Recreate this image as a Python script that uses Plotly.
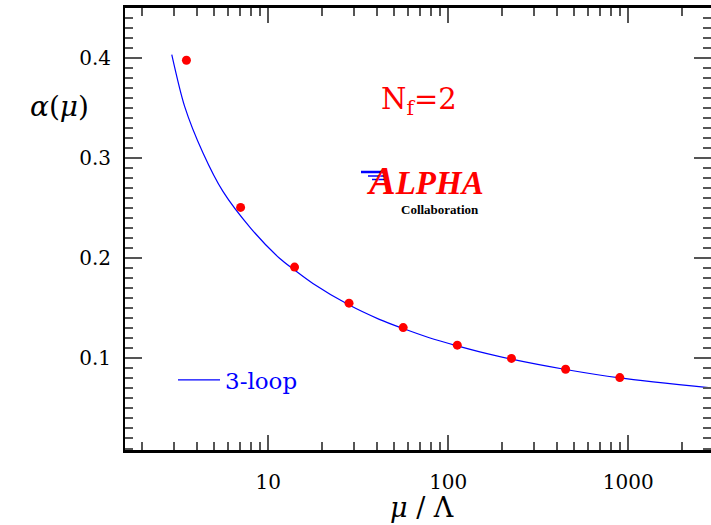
import plotly.graph_objects as go

# Lattice data points (ALPHA, Nf=2)
mu_data = [3.51, 7.02, 14.0, 28.1, 56.2, 112.3, 224.6, 449.0, 898.0]
alpha_data = [0.3978, 0.2508, 0.1912, 0.1552, 0.1308, 0.1132, 0.1000, 0.0892, 0.0808]

# 3-loop curve
mu_curve = [2.91, 3.43, 4.34, 5.60, 7.98, 11.55, 14.0, 17.7, 28.0, 41.4, 56.2, 78.5, 112.3, 148.0, 224.6, 449.0, 898.0, 2880.0]
alpha_curve = [0.4035, 0.3518, 0.3052, 0.2668, 0.2302, 0.2000, 0.1882, 0.1748, 0.1535, 0.1390, 0.1298, 0.1206, 0.1125, 0.1068, 0.0992, 0.0889, 0.0805, 0.0705]

x_tickvals = [10, 100, 1000]
x_ticktext = ["10", "100", "1000"]
x_minor = [2, 3, 4, 5, 6, 7, 8, 9, 20, 30, 40, 50, 60, 70, 80, 90,
           200, 300, 400, 500, 600, 700, 800, 900, 2000, 3000]
y_tickvals = [0.1, 0.2, 0.3, 0.4]
y_ticktext = ["0.1", "0.2", "0.3", "0.4"]

FONT = "DejaVu Serif"
W, H = 711, 525
L, R, T, B = 125, 0, 8, 75
PW, PH = W - L - R, H - T - B


def px(x):   # screen pixel -> paper x
    return (x - L) / PW


def py(y):   # screen pixel -> paper y
    return (H - B - y) / PH


fig = go.Figure()
fig.add_trace(go.Scatter(x=mu_curve, y=alpha_curve, mode="lines", name="3-loop",
                         line=dict(color="#0000ff", width=1.2, shape="spline", smoothing=0.8),
                         showlegend=True))
fig.add_trace(go.Scatter(x=mu_data, y=alpha_data, mode="markers", name="data",
                         marker=dict(color="#ff0000", size=9), showlegend=False))

fig.update_layout(
    width=W, height=H,
    margin=dict(l=L, r=R, t=T, b=B, autoexpand=False),
    plot_bgcolor="white", paper_bgcolor="white",
    font=dict(family=FONT, size=20, color="black"),
    legend=dict(x=px(173), y=py(380), xanchor="left", yanchor="middle", itemwidth=42,
                bgcolor="rgba(0,0,0,0)", font=dict(family=FONT, size=23, color="#0000ff")),
)
fig.update_xaxes(
    type="log", range=[0.204, 3.46], automargin=False,
    tickvals=x_tickvals, ticktext=x_ticktext,
    ticks="inside", ticklen=15, tickwidth=2, tickcolor="#555",
    minor=dict(tickvals=x_minor, ticks="inside", ticklen=8, tickwidth=1.5, tickcolor="#555"),
    showline=True, linecolor="black", linewidth=2.5, mirror="allticks",
    showgrid=False, zeroline=False, ticklabelstandoff=12,
)
fig.update_yaxes(
    range=[0.0085, 0.45], automargin=False,
    tickvals=y_tickvals, ticktext=y_ticktext,
    ticks="inside", ticklen=17, tickwidth=2, tickcolor="#555",
    minor=dict(dtick=0.01, tick0=0, ticks="inside", ticklen=8, tickwidth=1.5, tickcolor="#555"),
    showline=True, linecolor="black", linewidth=2, mirror="allticks",
    showgrid=False, zeroline=False, ticklabelstandoff=8,
)

# Axis titles
fig.add_annotation(text="<i>α</i>(<i>μ</i>)", xref="paper", yref="paper",
                   x=px(59), y=py(106), xanchor="center", yanchor="middle",
                   showarrow=False, font=dict(family=FONT, size=28))
fig.add_annotation(text="<i>μ</i> / Λ", xref="paper", yref="paper",
                   x=px(422), y=py(507), xanchor="center", yanchor="middle",
                   showarrow=False, font=dict(family=FONT, size=27))
# N_f = 2
fig.add_annotation(text="N<sub>f</sub>=2", xref="paper", yref="paper",
                   x=px(419), y=py(101), xanchor="center", yanchor="middle",
                   showarrow=False, font=dict(family=FONT, size=29, color="#ff0000"))
# ALPHA logo
fig.add_annotation(text="<b><i><span style='font-size:40px'>A</span>LPHA</i></b>",
                   xref="paper", yref="paper",
                   x=px(364), y=py(197), xanchor="left", yanchor="bottom",
                   showarrow=False, yshift=-8,
                   font=dict(family="Liberation Serif", size=33, color="#ff0000"))
fig.add_annotation(text="<b>Collaboration</b>", xref="paper", yref="paper",
                   x=px(440), y=py(209), xanchor="center", yanchor="middle",
                   showarrow=False, font=dict(family="Liberation Serif", size=13, color="black"))
for (x0, x1, yy, w) in [(361, 386, 172, 2.5), (368, 386, 176, 1.5), (372, 385, 179.5, 1.5)]:
    fig.add_shape(type="line", xref="paper", yref="paper",
                  x0=px(x0), x1=px(x1), y0=py(yy), y1=py(yy),
                  line=dict(color="#0000ff", width=w))

fig.write_html("out.html", config={"displayModeBar": False},
               post_script="document.body.style.margin='0';document.body.style.overflow='hidden';")
